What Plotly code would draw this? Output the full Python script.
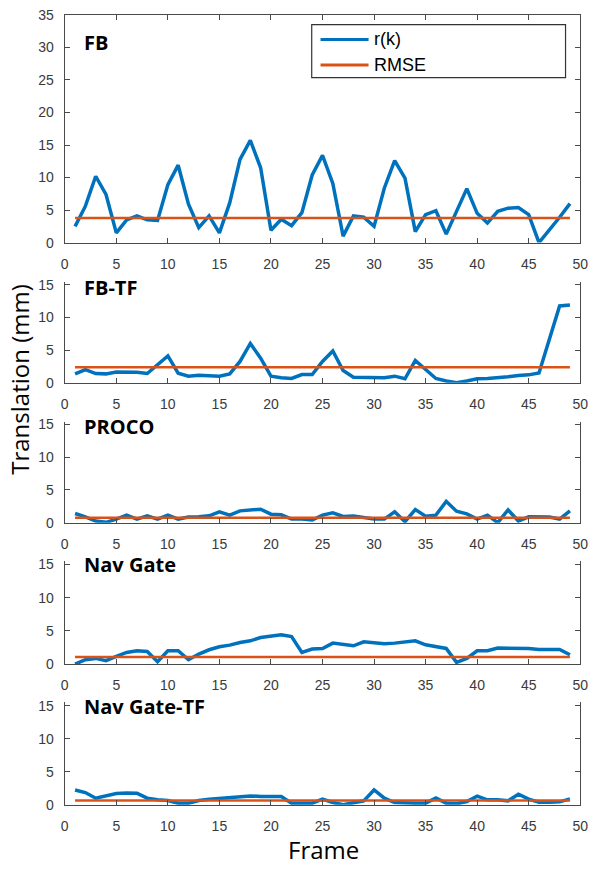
import plotly.graph_objects as go

frames = list(range(1, 50))

fb = [2.5, 5.6, 10.2, 7.4, 1.5, 3.5, 4.1, 3.5, 3.4, 8.9, 11.9, 5.9, 2.3, 4.1, 1.5, 6.1,
      12.8, 15.7, 11.5, 1.9, 3.6, 2.6, 4.6, 10.4, 13.4, 9.1, 1.0, 4.1, 3.9, 2.5, 8.4, 12.6,
      9.9, 1.7, 4.3, 4.9, 1.3, 4.8, 8.3, 4.5, 3.0, 4.8, 5.3, 5.4, 4.3, 0.0, 1.9, 3.9, 6.0]
fb_tf = [1.35, 2.0, 1.4, 1.35, 1.65, 1.6, 1.6, 1.4, 2.75, 4.1, 1.45, 1.0, 1.15, 1.1, 1.0,
         1.35, 3.25, 6.0, 3.75, 1.0, 0.75, 0.65, 1.25, 1.25, 3.25, 4.85, 1.85, 0.85, 0.85,
         0.85, 0.75, 1.0, 0.6, 3.4, 2.0, 0.65, 0.25, 0.0, 0.25, 0.6, 0.65, 0.75, 0.9, 1.1,
         1.2, 1.5, 6.5, 11.75, 11.9]
proco = [1.4, 0.9, 0.25, 0.05, 0.55, 1.15, 0.55, 1.05, 0.55, 1.15, 0.55, 0.85, 0.9, 1.05,
         1.65, 1.15, 1.8, 1.9, 2.05, 1.3, 1.2, 0.55, 0.55, 0.4, 1.15, 1.5, 0.95, 1.0, 0.75,
         0.55, 0.55, 1.65, 0.15, 2.0, 1.0, 1.15, 3.25, 1.75, 1.35, 0.55, 1.15, 0.0, 1.95,
         0.25, 0.9, 0.9, 0.85, 0.55, 1.8]
nav_gate = [0.0, 0.65, 0.85, 0.5, 1.15, 1.75, 2.0, 1.9, 0.35, 2.0, 2.0, 0.65, 1.5, 2.15,
            2.6, 2.85, 3.25, 3.5, 4.0, 4.15, 4.4, 4.15, 1.75, 2.25, 2.35, 3.15, 2.95, 2.75,
            3.35, 3.2, 3.05, 3.15, 3.3, 3.5, 2.9, 2.6, 2.35, 0.25, 0.85, 2.0, 2.0, 2.4, 2.4,
            2.4, 2.35, 2.2, 2.2, 2.2, 1.4]
nav_gate_tf = [2.25, 1.85, 1.0, 1.4, 1.7, 1.8, 1.75, 1.0, 0.75, 0.65, 0.25, 0.25, 0.65,
               0.85, 0.95, 1.15, 1.2, 1.35, 1.25, 1.25, 1.25, 0.25, 0.25, 0.25, 0.85, 0.35,
               0.0, 0.35, 0.6, 2.25, 1.0, 0.35, 0.25, 0.25, 0.25, 1.05, 0.25, 0.15, 0.5, 1.3,
               0.75, 0.75, 0.6, 1.6, 0.85, 0.4, 0.4, 0.45, 0.9]

panel_names = ["FB", "FB-TF", "PROCO", "Nav Gate", "Nav Gate-TF"]
series = [fb, fb_tf, proco, nav_gate, nav_gate_tf]
rmse = [3.8, 2.35, 0.75, 1.05, 0.65]
y_max = [35, 15.35, 15.35, 15.5, 15.5]
y_tick_vals = [[0, 5, 10, 15, 20, 25, 30, 35], [0, 5, 10, 15], [0, 5, 10, 15],
               [0, 5, 10, 15], [0, 5, 10, 15]]
x_tick_vals = [0, 5, 10, 15, 20, 25, 30, 35, 40, 45, 50]
legend_labels = ["r(k)", "RMSE"]

BLUE = "#0072BD"
ORANGE = "#D95319"
W, H = 600, 872

# pixel geometry (top, bottom) of each panel's plot area
panel_px = [(7, 239), (279.5, 381.7), (421.7, 524.3), (563.5, 668.3), (707.3, 811.7)]
x_px = (62, 588)

def px_x(p):
    return p / W

def px_y(p):
    return 1 - p / H

fig = go.Figure()
layout = dict(
    width=W, height=H,
    margin=dict(l=0, r=0, t=0, b=0),
    paper_bgcolor="white", plot_bgcolor="white",
    showlegend=False,
    annotations=[], shapes=[],
)

tick_font = dict(family="Arial, Liberation Sans", size=14, color="#3a3a3a")
axis_col = "#4a4a4a"

for i, (name, vals) in enumerate(zip(panel_names, series)):
    n = "" if i == 0 else str(i + 1)
    xa = "x" + n
    ya = "y" + n
    fig.add_trace(go.Scatter(x=frames, y=vals, mode="lines", name=legend_labels[0],
                             line=dict(color=BLUE, width=3.5), xaxis=xa, yaxis=ya))
    fig.add_trace(go.Scatter(x=[frames[0], frames[-1]], y=[rmse[i], rmse[i]], mode="lines",
                             name=legend_labels[1], line=dict(color=ORANGE, width=2.5),
                             xaxis=xa, yaxis=ya))
    top, bot = panel_px[i]
    boxed = (i == 0)
    layout["xaxis" + n] = dict(
        domain=[px_x(x_px[0]), px_x(x_px[1])], anchor=ya, range=[0, 50],
        tickvals=x_tick_vals, ticks="inside", ticklen=5, tickcolor=axis_col,
        showline=True, linecolor=axis_col, linewidth=1.2,
        mirror="ticks" if boxed else False, showgrid=False, zeroline=False,
        tickfont=tick_font, ticklabelstandoff=8,
    )
    layout["yaxis" + n] = dict(
        domain=[px_y(bot), px_y(top)], anchor=xa, range=[0, y_max[i]],
        tickvals=y_tick_vals[i], ticks="inside", ticklen=5, tickcolor=axis_col,
        showline=True, linecolor=axis_col, linewidth=1.2, mirror="ticks",
        showgrid=False, zeroline=False, tickfont=tick_font, ticklabelstandoff=7,
    )
    title_y = [35, 285, 426, 567, 712][i]
    layout["annotations"].append(dict(
        text="<b>" + name + "</b>", xref="paper", yref="paper",
        x=px_x(80), y=px_y(title_y), xanchor="left", yanchor="middle", showarrow=False,
        font=dict(family="Open Sans", size=20, color="black"),
    ))

# axis titles
layout["annotations"].append(dict(
    text="Translation (mm)", xref="paper", yref="paper", x=px_x(15), y=px_y(378),
    xanchor="center", yanchor="middle", textangle=-90, showarrow=False,
    font=dict(family="Open Sans", size=24, color="black"),
))
layout["annotations"].append(dict(
    text="Frame", xref="paper", yref="paper", x=px_x(326), y=px_y(857),
    xanchor="center", yanchor="middle", showarrow=False,
    font=dict(family="Open Sans", size=24, color="black"),
))

# legend box drawn in panel 1
leg_x0, leg_x1, leg_y0, leg_y1 = 314, 573, 17, 71
layout["shapes"].append(dict(
    type="rect", xref="paper", yref="paper",
    x0=px_x(leg_x0), x1=px_x(leg_x1), y0=px_y(leg_y1), y1=px_y(leg_y0),
    line=dict(color="#333333", width=1.2), fillcolor="white", layer="above",
))
for j, (lab, col, lw) in enumerate(zip(legend_labels, [BLUE, ORANGE], [3, 3])):
    yy = [32, 58][j]
    layout["shapes"].append(dict(
        type="line", xref="paper", yref="paper",
        x0=px_x(323), x1=px_x(372), y0=px_y(yy), y1=px_y(yy),
        line=dict(color=col, width=lw), layer="above",
    ))
    layout["annotations"].append(dict(
        text=lab, xref="paper", yref="paper", x=px_x(376), y=px_y(yy),
        xanchor="left", yanchor="middle", showarrow=False,
        font=dict(family="Arial, Liberation Sans", size=18, color="black"),
    ))

fig.update_layout(**layout)
fig.write_html(
    "out.html",
    config={"displayModeBar": False},
    post_script="document.body.style.margin='0';document.body.style.overflow='hidden';",
)
